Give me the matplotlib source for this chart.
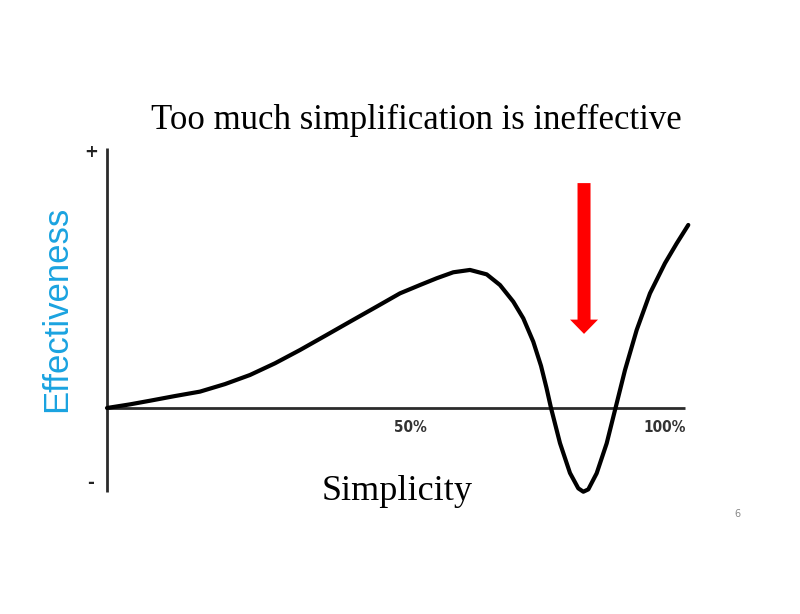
import matplotlib
matplotlib.use("Agg")
import matplotlib.pyplot as plt
from matplotlib.patches import FancyArrow

# Curve: simplicity (%) vs effectiveness (arbitrary units)
simplicity = [0, 3.98, 7.44, 11.76, 16.09, 20.42, 24.74, 29.07, 33.39, 38.01,
              42.04, 46.66, 50.69, 54.15, 57.04, 59.91, 62.80, 65.69, 67.99,
              70.29, 72.02, 73.75, 75.09, 76.04, 76.82, 78.37, 80.10, 81.54,
              82.41, 83.27, 84.72, 86.45, 87.89, 89.62, 91.64, 93.94, 96.54,
              98.56, 100.57]
effectiveness = [0, 0.014, 0.028, 0.046, 0.063, 0.092, 0.127, 0.172, 0.223, 0.281,
                 0.332, 0.390, 0.441, 0.473, 0.499, 0.522, 0.531, 0.514, 0.473,
                 0.409, 0.345, 0.255, 0.162, 0.077, 0.0, -0.135, -0.250, -0.309,
                 -0.322, -0.313, -0.251, -0.136, -0.008, 0.146, 0.300, 0.441,
                 0.557, 0.633, 0.704]

tick_pos = [52.5, 96.5]
tick_labels = ["50%", "100%"]

title = "Too much simplification is ineffective"
xlabel = "Simplicity"
ylabel = "Effectiveness"

# pixel anchors -> data scale (origin at px (107, 408))
px_per_pct = 5.78
px_per_unit = 260.0
x0_px, y0_px = 107, 408
W, H = 800, 614

fig = plt.figure(figsize=(8.0, 6.14), dpi=100)
ax = fig.add_axes([0, 0, 1, 1])
ax.set_xlim(-x0_px / px_per_pct, (W - x0_px) / px_per_pct)
ax.set_ylim((y0_px - H) / px_per_unit, y0_px / px_per_unit)
ax.axis("off")

axis_col = "#2b2b2b"
ax.plot([0, 0], [1.0, -0.323], color=axis_col, lw=2.0, solid_capstyle="butt")
ax.plot([0, 100], [0, 0], color=axis_col, lw=2.0, solid_capstyle="butt")

ax.plot(simplicity, effectiveness, color="black", lw=3.0,
        solid_joinstyle="round", solid_capstyle="round")

arrow = FancyArrow(82.53, 0.865, 0, 0.285 - 0.865, width=2.25,
                   head_width=4.84, head_length=0.055,
                   length_includes_head=True, color="#ff0000", lw=0)
ax.add_patch(arrow)

for p, lab in zip(tick_pos, tick_labels):
    ax.text(p, -0.075, lab, ha="center", va="center", fontsize=11,
            fontweight="bold", fontstretch="condensed", color="#333333",
            family="DejaVu Sans")

ax.text(-2.8, 0.985, "+", ha="center", va="center", fontsize=12,
        fontweight="bold", color="#222222")
ax.text(-2.8, -0.29, "-", ha="center", va="center", fontsize=12,
        fontweight="bold", color="#222222")

fig.text(416 / W, 1 - 120 / H, title, ha="center", va="center",
         fontsize=25, family="Liberation Serif", color="black")
fig.text(397 / W, 1 - 492 / H, xlabel, ha="center", va="center",
         fontsize=26, family="Liberation Serif", color="black")
fig.text(57 / W, 1 - 309 / H, ylabel, ha="center", va="center", rotation=90,
         fontsize=25, family="Liberation Sans", color="#1aa3e0")
fig.text(737 / W, 1 - 514 / H, "6", ha="center", va="center",
         fontsize=7, color="#888888")

fig.savefig("out.png", dpi=100, facecolor="white")
